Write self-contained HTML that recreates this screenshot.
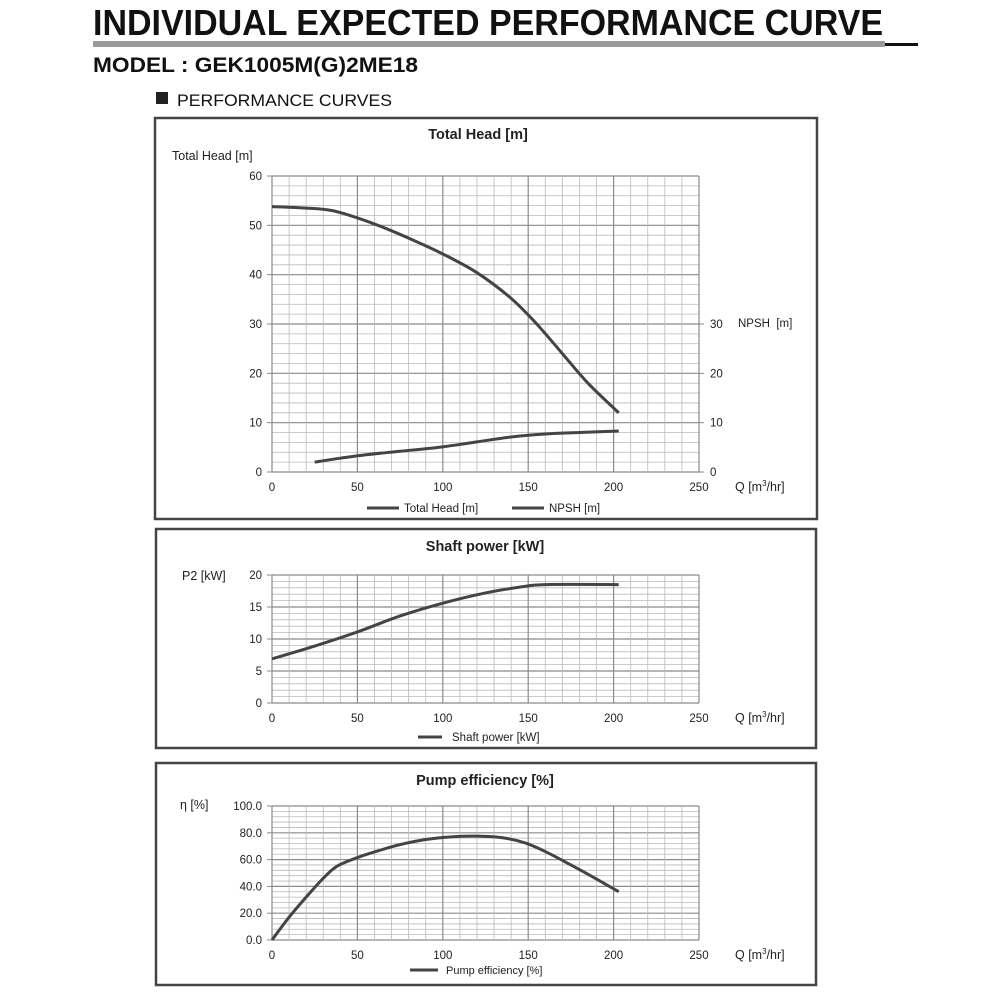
<!DOCTYPE html>
<html><head><meta charset="utf-8">
<style>
html,body{margin:0;padding:0;background:#fff;}
svg{display:block;font-family:"Liberation Sans",sans-serif;}
</style></head>
<body>
<svg id="s" width="1000" height="1000" xmlns="http://www.w3.org/2000/svg">
<text x="93" y="35" font-size="36" font-weight="bold" fill="#111" textLength="790" lengthAdjust="spacingAndGlyphs" font-family="Liberation Sans Narrow, Liberation Sans, sans-serif">INDIVIDUAL EXPECTED PERFORMANCE CURVE</text>
<rect x="93" y="41" width="792" height="6" fill="#9a9a9a"/>
<rect x="885" y="43" width="33" height="3" fill="#111"/>
<text x="93" y="72" font-size="21" font-weight="bold" fill="#111" textLength="325" lengthAdjust="spacingAndGlyphs" font-family="Liberation Sans Narrow, Liberation Sans, sans-serif">MODEL : GEK1005M(G)2ME18</text>
<rect x="156" y="92" width="12" height="12" fill="#222"/>
<text x="177" y="106" font-size="17" fill="#111" textLength="215" lengthAdjust="spacingAndGlyphs" font-family="Liberation Sans Narrow, Liberation Sans, sans-serif">PERFORMANCE CURVES</text>
<g id="g"></g>
</svg>
<script>
const g=document.getElementById('g');let h='';
function L(x1,y1,x2,y2,c,w){h+=`<line x1="${x1}" y1="${y1}" x2="${x2}" y2="${y2}" stroke="${c}" stroke-width="${w}"/>`;}
function T(x,y,s,fs,a,b){h+=`<text x="${x}" y="${y}" font-size="${fs}" text-anchor="${a||'start'}" fill="#222" ${b?'font-weight="bold"':''}>${s}</text>`;}
function smooth(p){let d=`M${p[0][0]},${p[0][1]}`;for(let i=0;i<p.length-1;i++){const p0=p[i-1]||p[i],p1=p[i],p2=p[i+1],p3=p[i+2]||p2;
 const c1=[p1[0]+(p2[0]-p0[0])/6,p1[1]+(p2[1]-p0[1])/6],c2=[p2[0]-(p3[0]-p1[0])/6,p2[1]-(p3[1]-p1[1])/6];
 d+=` C${c1[0]},${c1[1]} ${c2[0]},${c2[1]} ${p2[0]},${p2[1]}`;}return d;}
const X0=272,X1=699;
function chart(o){
 const {yt,yb,ymax,minor,major,labels}=o;
 h+=`<rect x="${o.px}" y="${o.py}" width="${o.pw}" height="${o.ph}" fill="none" stroke="#444" stroke-width="2.5"/>`;
 const sx=v=>X0+(X1-X0)*v/250, sy=v=>yb-(yb-yt)*v/ymax;
 for(let v=0;v<=ymax+1e-9;v+=minor){const maj=Math.abs(v/major-Math.round(v/major))<1e-6;L(X0,sy(v),X1,sy(v),maj?'#8a8a8a':'#bababa',maj?1.2:0.8);}
 for(let v=0;v<=250;v+=10){const maj=v%50==0;L(sx(v),yt,sx(v),yb,maj?'#8a8a8a':'#bababa',maj?1.2:0.8);}
 for(let v=0;v<=ymax;v+=major){L(X0-5,sy(v),X0,sy(v),'#888',1);T(X0-10,sy(v)+4,labels(v),11.5,'end');}
 for(let v=0;v<=250;v+=50){T(sx(v),yb+19,v,11.5,'middle');}
 T(735,yb+19,'Q [m<tspan font-size="8" dy="-5">3</tspan><tspan dy="5">/hr]</tspan>',12.5);
 for(const c of o.curves){h+=`<path fill="none" stroke="#444" stroke-width="3" stroke-linejoin="round" d="${smooth(c.map(p=>[sx(p[0]),sy(p[1])]))}"/>`;}
 return {sx,sy};
}
let c1=chart({px:155,py:118,pw:662,ph:401,yt:176,yb:472,ymax:60,minor:2,major:10,labels:v=>v,
 curves:[[[0,53.8],[20,53.5],[35,53],[50,51.5],[65,49.6],[80,47.4],[100,44.2],[120,40.4],[140,35.2],[155,30],[170,24],[185,18],[203,12]],
 [[25,2],[40,2.8],[55,3.5],[75,4.2],[100,5.1],[120,6.1],[140,7.1],[160,7.7],[180,8],[203,8.3]]]});
T(478,139,'Total Head [m]',14.5,'middle',true);
T(172,160,'Total Head [m]',12.5);
for(let v=0;v<=30;v+=10){L(X1,c1.sy(v),X1+5,c1.sy(v),'#888',1);T(710,c1.sy(v)+4,v,11.5);}
T(738,327,'NPSH&#160;&#160;[m]',11.5);
L(367,508,399,508,'#444',3);T(404,512,'Total Head [m]',11.5);
L(512,508,544,508,'#444',3);T(549,512,'NPSH [m]',11.5);
chart({px:156,py:529,pw:660,ph:219,yt:575,yb:703,ymax:20,minor:1,major:5,labels:v=>v,
 curves:[[[0,6.9],[25,8.9],[50,11.1],[75,13.6],[100,15.6],[125,17.2],[145,18.1],[160,18.5],[203,18.5]]]});
T(485,551,'Shaft power [kW]',14.5,'middle',true);
T(182,580,'P2 [kW]',12.5);
L(418,737,442,737,'#444',3);T(452,741,'Shaft power [kW]',11.5);
chart({px:156,py:763,pw:660,ph:222,yt:806,yb:940,ymax:100,minor:4,major:20,labels:v=>v.toFixed(1),
 curves:[[[0,0],[10,17],[20,32],[30,46],[38,55],[50,61.5],[62,66.5],[75,71.2],[90,75],[105,77],[120,77.5],[135,76.3],[148,72.5],[160,66],[175,56],[190,45.5],[203,36]]]});
T(485,785,'Pump efficiency [%]',14.5,'middle',true);
T(180,809,'η [%]',12.5);
L(410,970,438,970,'#444',3);T(446,974,'Pump efficiency [%]',11);
g.innerHTML=h;
</script>
</body></html>
